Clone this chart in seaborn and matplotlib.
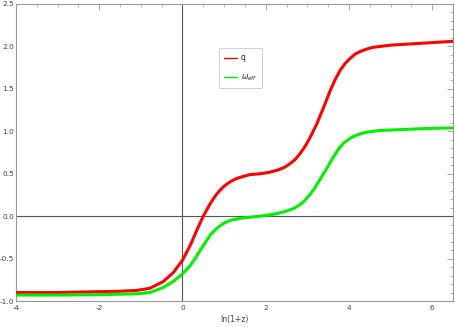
import numpy as np
import pandas as pd
import matplotlib
matplotlib.use("Agg")
import matplotlib.pyplot as plt
import seaborn as sns
from matplotlib.ticker import MultipleLocator

x_q = [-4, -3, -2, -1.5, -1.1, -0.78, -0.46, -0.22, 0, 0.19, 0.35, 0.5, 0.67,
       0.75, 0.83, 0.95, 1.07, 1.2, 1.31, 1.47, 1.63, 1.87, 2.07, 2.27, 2.45,
       2.59, 2.71, 2.83, 2.95, 3.07, 3.23, 3.39, 3.55, 3.67, 3.79, 3.91, 4.03,
       4.15, 4.27, 4.43, 4.59, 4.75, 5, 5.5, 6, 6.5]
q_vals = [-0.9, -0.9, -0.89, -0.885, -0.875, -0.85, -0.77, -0.665, -0.52, -0.34,
          -0.16, 0.0, 0.15, 0.21, 0.265, 0.33, 0.38, 0.42, 0.445, 0.47, 0.49,
          0.5, 0.515, 0.54, 0.575, 0.62, 0.67, 0.74, 0.825, 0.93, 1.09, 1.28,
          1.48, 1.61, 1.72, 1.80, 1.86, 1.91, 1.94, 1.97, 1.99, 2.0, 2.015,
          2.03, 2.045, 2.06]
x_w = [-4, -3, -2, -1.5, -1.1, -0.78, -0.46, -0.22, 0, 0.19, 0.31, 0.43, 0.55,
       0.67, 0.79, 0.91, 1.03, 1.15, 1.31, 1.47, 1.67, 1.87, 2.07, 2.27, 2.47,
       2.67, 2.79, 2.91, 3.03, 3.15, 3.27, 3.39, 3.51, 3.63, 3.75, 3.87, 3.99,
       4.11, 4.27, 4.43, 4.59, 4.75, 5, 5.5, 6, 6.5]
w_vals = [-0.93, -0.93, -0.925, -0.92, -0.915, -0.9, -0.84, -0.77, -0.68, -0.58,
          -0.495, -0.4, -0.31, -0.22, -0.16, -0.11, -0.075, -0.05, -0.033,
          -0.02, -0.01, 0.0, 0.012, 0.03, 0.055, 0.09, 0.125, 0.17, 0.235, 0.31,
          0.405, 0.5, 0.6, 0.7, 0.79, 0.86, 0.905, 0.94, 0.97, 0.99, 1.0, 1.01,
          1.015, 1.025, 1.035, 1.04]
series_names = ["q", r"$\omega_{eff}$"]
series_colors = ["#ff0000", "#00ee00"]

df = pd.DataFrame({
    "x": x_q + x_w,
    "y": q_vals + w_vals,
    "s": [series_names[0]] * len(x_q) + [series_names[1]] * len(x_w),
})

sns.set_style("white")
plt.rcParams["font.family"] = ["DejaVu Sans"]
plt.rcParams["axes.unicode_minus"] = False

fig = plt.figure(figsize=(4.55, 3.27), dpi=100)
ax = fig.add_axes([16 / 455, 1 - 301 / 327, 437 / 455, 297 / 327])

ax.axhline(0, color="#555555", lw=0.8, zorder=1)
ax.axvline(0, color="#555555", lw=0.8, zorder=1)

sns.lineplot(data=df, x="x", y="y", hue="s", palette=series_colors,
             linewidth=2.2, ax=ax, zorder=3)
for ln in ax.get_lines():
    ln.set_solid_joinstyle("round")
    ln.set_solid_capstyle("round")

ax.set_xlim(-4, 6.5)
ax.set_ylim(-1, 2.5)
ax.xaxis.set_major_locator(MultipleLocator(2))
ax.xaxis.set_minor_locator(MultipleLocator(0.5))
ax.yaxis.set_major_locator(MultipleLocator(0.5))
ax.yaxis.set_minor_locator(MultipleLocator(0.1))
ax.tick_params(which="both", direction="in", top=True, right=True,
               color="#999999", labelsize=5.3, labelcolor="#444444", pad=1.2)
ax.tick_params(axis="x", which="both", pad=3)
ax.tick_params(which="major", length=4, width=0.6)
ax.tick_params(which="minor", length=2, width=0.5)
for sp in ax.spines.values():
    sp.set_color("#999999")
    sp.set_linewidth(0.8)

ax.set_xlabel("ln(1+z)", fontsize=5.5, color="#444444", labelpad=3)
ax.set_ylabel("")

leg = ax.legend(loc="upper left", bbox_to_anchor=(0.455, 0.865), fontsize=5.5,
                frameon=True, fancybox=True, handlelength=1.7, labelspacing=1.3,
                borderpad=0.7, handletextpad=0.5, title=None)
leg.get_frame().set_edgecolor("#bbbbbb")
leg.get_frame().set_linewidth(0.6)
for line in leg.get_lines():
    line.set_linewidth(1.0)

fig.savefig("out.png", dpi=100)
